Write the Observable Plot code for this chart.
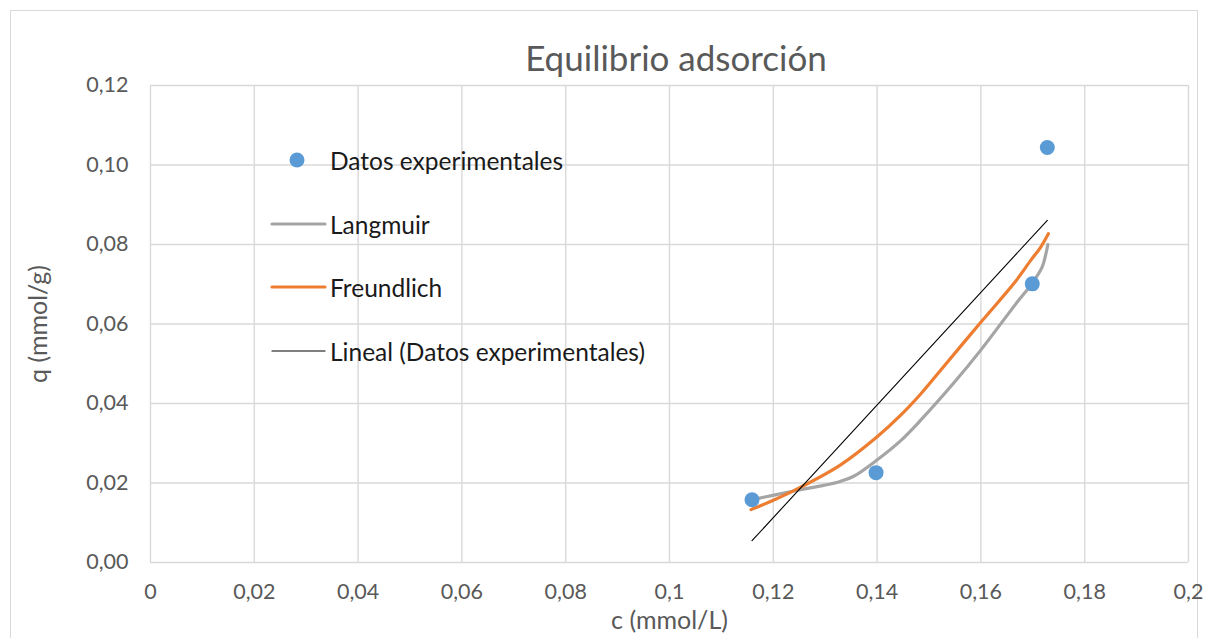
<!DOCTYPE html>
<html>
<head>
<meta charset="utf-8">
<script src="https://cdn.jsdelivr.net/npm/d3@7"></script>
<script src="https://cdn.jsdelivr.net/npm/@observablehq/plot@0.6"></script>
<style>
  html, body { margin: 0; padding: 0; background: #fff; }
  #chart { position: relative; width: 1207px; height: 638px; overflow: hidden; font-family: Lato, "Open Sans", sans-serif; color: #595959; }
  #frame { position: absolute; left: 10px; top: 10px; width: 1186px; height: 700px; border: 1px solid #d9d9d9; }
  #plot { position: absolute; left: 0; top: 0; }
  #title { position: absolute; left: 0; width: 1352px; top: 36px; text-align: center; font-size: 35px; color: #595959; }
  .leg { position: absolute; left: 268px; height: 30px; display: flex; align-items: center; font-size: 24.5px; color: #1a1a1a; }
  .leg svg { width: 62px; height: 30px; flex: none; }
</style>
</head>
<body>
<div id="chart">
  <div id="frame"></div>
  <div id="plot"></div>
  <div id="title">Equilibrio adsorción</div>
  <div id="legend"></div>
</div>
<script>
// Experimental equilibrium points: c (mmol/L), q (mmol/g)
const expC = [0.1159, 0.1398, 0.1699, 0.1728];
const expQ = [0.0158, 0.0226, 0.0701, 0.1044];

// Langmuir model curve
const langC = [0.1159, 0.1199, 0.1252, 0.1297, 0.1329, 0.1355, 0.1399, 0.1445, 0.1484, 0.1548, 0.1599, 0.1667, 0.1699, 0.1718, 0.1725, 0.1729];
const langQ = [0.0158, 0.0169, 0.0183, 0.0194, 0.0204, 0.0217, 0.0257, 0.0306, 0.0358, 0.0452, 0.0533, 0.0650, 0.0703, 0.0743, 0.0775, 0.0800];

// Freundlich model curve
const freuC = [0.1157, 0.1199, 0.1252, 0.1329, 0.1399, 0.1445, 0.1484, 0.1522, 0.1597, 0.1663, 0.1696, 0.1715, 0.1730];
const freuQ = [0.0133, 0.0156, 0.0189, 0.0245, 0.0315, 0.0370, 0.0424, 0.0483, 0.0600, 0.0701, 0.0760, 0.0793, 0.0827];

// Axis ticks
const xTicks = [0, 0.02, 0.04, 0.06, 0.08, 0.1, 0.12, 0.14, 0.16, 0.18, 0.2];
const yTicks = [0, 0.02, 0.04, 0.06, 0.08, 0.10, 0.12];

const toRows = (cs, qs) => cs.map((c, i) => ({c, q: qs[i]}));
const expRows = toRows(expC, expQ);
const langRows = toRows(langC, langQ);
const freuRows = toRows(freuC, freuQ);

const BLUE = "#5B9BD5", ORANGE = "#ED7D31", GRAY = "#A5A5A5", GRID = "#d9d9d9";
const fmtX = d => String(+d.toFixed(2)).replace(".", ",");
const fmtY = d => d.toFixed(2).replace(".", ",");

const chart = Plot.plot({
  width: 1207,
  height: 638,
  marginLeft: 150,
  marginRight: 19,
  marginTop: 85,
  marginBottom: 76,
  style: { fontFamily: "Lato, 'Open Sans', sans-serif", fontSize: "21.5px", color: "#595959", background: "transparent" },
  x: { domain: [0, 0.2] },
  y: { domain: [0, 0.12] },
  marks: [
    Plot.gridX(xTicks, { stroke: GRID, strokeOpacity: 1, strokeWidth: 1.4 }),
    Plot.gridY(yTicks, { stroke: GRID, strokeOpacity: 1, strokeWidth: 1.4 }),
    Plot.axisX(xTicks, { tickSize: 0, tickPadding: 21, tickFormat: fmtX, fontSize: 21.5, label: null }),
    Plot.axisX({ ticks: [], label: "c (mmol/L)", labelAnchor: "center", labelArrow: "none", labelOffset: 66, fontSize: 25 }),
    Plot.axisY(yTicks, { tickSize: 0, tickPadding: 22, tickFormat: fmtY, fontSize: 21.5, label: null }),
    Plot.axisY({ ticks: [], label: "q (mmol/g)", labelAnchor: "center", labelArrow: "none", labelOffset: 121, fontSize: 25 }),
    Plot.line(langRows, { x: "c", y: "q", stroke: GRAY, strokeWidth: 3.2, curve: "catmull-rom" }),
    Plot.line(freuRows, { x: "c", y: "q", stroke: ORANGE, strokeWidth: 3.2, curve: "catmull-rom" }),
    Plot.linearRegressionY(expRows, { x: "c", y: "q", stroke: "#000", strokeWidth: 1.1, ci: 0 }),
    Plot.dot(expRows, { x: "c", y: "q", r: 7.5, fill: BLUE, stroke: "none" })
  ]
});
document.getElementById("plot").appendChild(chart);

// Legend drawn over the plot area
const legendItems = [
  { label: "Datos experimentales", kind: "dot", top: 145 },
  { label: "Langmuir", kind: "line", color: GRAY, width: 3.2, top: 209 },
  { label: "Freundlich", kind: "line", color: ORANGE, width: 3.2, top: 272 },
  { label: "Lineal (Datos experimentales)", kind: "line", color: "#000", width: 1.1, top: 336 }
];
const legend = d3.select("#legend");
legendItems.forEach(item => {
  const row = legend.append("div").attr("class", "leg").style("top", item.top + "px");
  const svg = row.append("svg");
  if (item.kind === "dot") {
    svg.append("circle").attr("cx", 29).attr("cy", 15).attr("r", 7.5).attr("fill", BLUE);
  } else {
    svg.append("line").attr("x1", 4).attr("x2", 57).attr("y1", 15).attr("y2", 15)
      .attr("stroke", item.color).attr("stroke-width", item.width).attr("stroke-linecap", "round");
  }
  row.append("span").text(item.label);
});
</script>
</body>
</html>
